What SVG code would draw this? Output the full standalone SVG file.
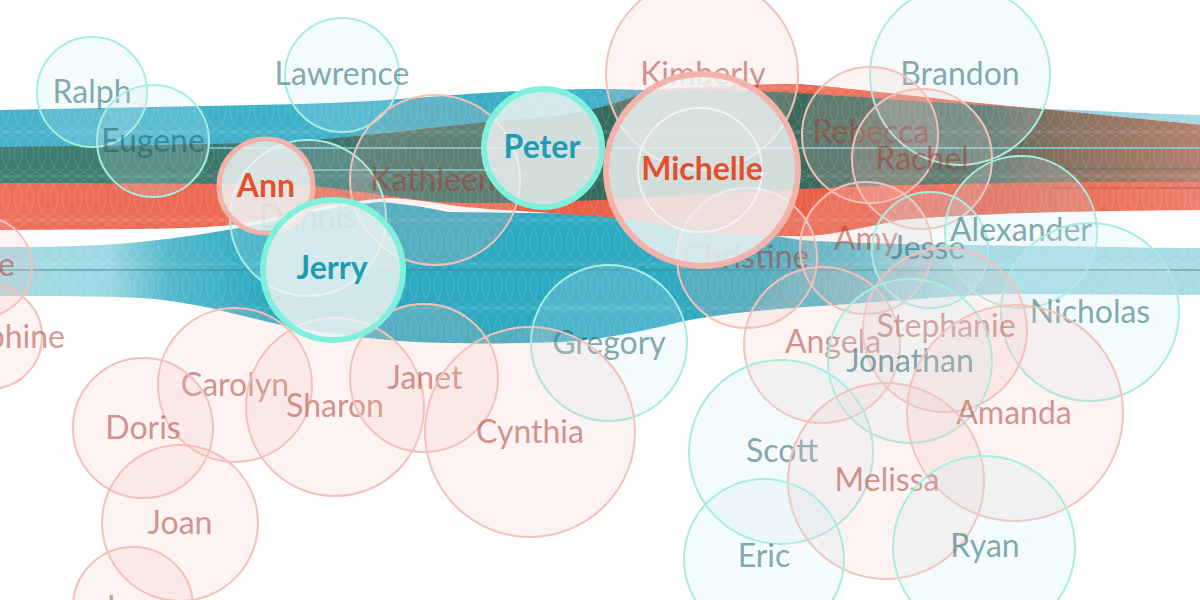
<svg xmlns="http://www.w3.org/2000/svg" width="1200" height="600" viewBox="0 0 1200 600">
<style>
text{font-family:Lato,"Open Sans","DejaVu Sans",sans-serif;font-size:32px;font-weight:400;text-anchor:middle}
.m circle{fill:#c6eaf3;fill-opacity:.2;stroke:#a6eee0;stroke-width:2}
.f circle{fill:#f5c4bc;fill-opacity:.2;stroke:#f4c1b9;stroke-width:2}
.m text{fill:#0f5863;fill-opacity:.52}
.f text{fill:#a63526;fill-opacity:.52}
.hl circle{fill:#eef3f3;fill-opacity:.84;stroke-width:6}
.hl text{font-weight:700}
.hm circle{stroke:#7ff0dc}
.hm text{fill:#1d9db3}
.hf circle{stroke:#f3b2aa}
.hf text{fill:#e2502f}
.ln{fill:none;stroke-width:1.5}
</style>
<defs>
<linearGradient id="gT" x1="0" y1="0" x2="1200" y2="0" gradientUnits="userSpaceOnUse">
<stop offset="0" stop-color="#45b2ca"/>
<stop offset=".4" stop-color="#3aaec7"/>
<stop offset=".8" stop-color="#52b8cd"/>
<stop offset=".88" stop-color="#8fcfdd"/>
<stop offset="1" stop-color="#a6d9e4"/>
</linearGradient>
<linearGradient id="gR" x1="0" y1="0" x2="1200" y2="0" gradientUnits="userSpaceOnUse">
<stop offset="0" stop-color="#ec705b"/>
<stop offset=".5" stop-color="#e95f45"/>
<stop offset=".82" stop-color="#e9604a"/>
<stop offset="1" stop-color="#ee806d"/>
</linearGradient>
<linearGradient id="gO" x1="0" y1="0" x2="1200" y2="0" gradientUnits="userSpaceOnUse">
<stop offset="0" stop-color="#3f7e75"/>
<stop offset=".3" stop-color="#3c7468"/>
<stop offset=".5" stop-color="#356a5c"/>
<stop offset=".8" stop-color="#3d6a5d"/>
<stop offset=".88" stop-color="#85705f"/>
<stop offset="1" stop-color="#b27f6d"/>
</linearGradient>
<linearGradient id="gB" x1="0" y1="0" x2="1200" y2="0" gradientUnits="userSpaceOnUse">
<stop offset="0" stop-color="#26a6be" stop-opacity=".42"/>
<stop offset=".09" stop-color="#26a6be" stop-opacity=".45"/>
<stop offset=".14" stop-color="#26a6be" stop-opacity=".78"/>
<stop offset=".22" stop-color="#22a4bd" stop-opacity=".95"/>
<stop offset=".63" stop-color="#22a4bd" stop-opacity=".95"/>
<stop offset=".72" stop-color="#26a6be" stop-opacity=".75"/>
<stop offset=".8" stop-color="#26a6be" stop-opacity=".45"/>
<stop offset="1" stop-color="#26a6be" stop-opacity=".4"/>
</linearGradient>
<pattern id="scallop" patternUnits="userSpaceOnUse" width="12" height="44">
<g fill="none" stroke="#ffffff" stroke-opacity=".13" stroke-width="1">
<circle cx="-12" cy="22" r="22"/><circle cx="0" cy="22" r="22"/><circle cx="12" cy="22" r="22"/><circle cx="24" cy="22" r="22"/>
</g>
</pattern>
<path id="pT" d="M0,110 C100,108 200,106 300,104 C380,102 430,96 500,92 C560,89 600,88 640,90 L780,92 C850,96 950,104 1050,109 C1120,112 1160,114 1200,115 L1200,182 C1100,182 1000,182 900,185 C800,188 700,195 600,200 C520,203 460,205 420,200 C380,195 340,188 300,185 C200,183 100,183 0,183 Z"/>
<path id="pR" d="M0,147 C100,146 200,145 280,142 C360,138 420,128 500,121 C560,117 600,112 650,90 C700,86 760,84 800,84 C850,88 900,95 1000,105 C1100,115 1150,120 1200,125 L1200,210 C1100,211 1050,212 1000,214 C950,216 920,218 900,220 C860,228 830,236 800,236 C760,236 720,234 700,232 C660,226 640,220 620,218 C580,215 560,214 550,213 C500,210 470,208 450,205 C430,202 410,199 390,198 C360,200 340,204 330,205 C290,215 250,224 220,226 C180,229 150,229 0,230 Z"/>
<path id="pB" d="M0,247 C60,247 100,246 140,242 C180,238 220,232 260,224 C300,214 340,205 380,202 C420,205 440,211 450,212 L620,214 C680,218 740,230 800,240 C860,244 950,245 1050,246 C1120,247 1160,248 1200,248 L1200,295 C1120,295 1050,294 1000,294 C950,296 880,302 820,306 C760,310 720,314 680,322 C640,332 600,340 560,342 C500,344 440,344 400,341 C340,336 300,330 260,320 C220,310 180,300 140,298 C100,296 50,296 0,296 Z"/>
<clipPath id="cT"><use href="#pT"/></clipPath>
<clipPath id="cBands"><use href="#pT"/><use href="#pR"/><use href="#pB"/></clipPath>
</defs>
<rect width="1200" height="600" fill="#ffffff"/>

<g id="connectors">
<use href="#pB" fill="url(#gB)"/>
<use href="#pT" fill="url(#gT)"/>
<use href="#pR" fill="url(#gR)"/>
<use href="#pR" fill="url(#gO)" clip-path="url(#cT)"/>
<rect x="0" y="0" width="1200" height="600" fill="url(#scallop)" clip-path="url(#cBands)"/>
<line class="ln" x1="210" y1="148" x2="1200" y2="148" stroke="#86dbea" stroke-opacity=".9"/>
<line class="ln" x1="300" y1="170" x2="500" y2="170" stroke="#86dbea" stroke-opacity=".8"/>
<line class="ln" x1="1060" y1="169" x2="1200" y2="169" stroke="#3e6c70" stroke-opacity=".35"/>
<line class="ln" x1="1050" y1="188" x2="1200" y2="188" stroke="#6a3a30" stroke-opacity=".25"/>
<line class="ln" x1="0" y1="270" x2="1200" y2="270" stroke="#3f7f8c" stroke-opacity=".55"/>
</g>

<g id="node-ralph" class="m"><circle cx="92" cy="92" r="55"/><text x="92" y="103">Ralph</text></g>
<g id="node-eugene" class="m"><circle cx="153" cy="141" r="56"/><text x="153" y="152">Eugene</text></g>
<g id="node-lawrence" class="m"><circle cx="342" cy="75" r="57"/><text x="342" y="85">Lawrence</text></g>
<g id="node-dennis" class="m"><circle cx="308" cy="218" r="78"/><text x="308" y="228">Dennis</text></g>
<g id="node-kathleen" class="f"><circle cx="435" cy="180" r="85"/><text x="433" y="191">Kathleen</text></g>
<g id="node-kimberly" class="f"><circle cx="702" cy="74" r="96"/><text x="703" y="85">Kimberly</text></g>
<g id="node-brandon" class="m"><circle cx="960" cy="75" r="90"/><text x="960" y="85">Brandon</text></g>
<g id="node-rebecca" class="f"><circle cx="870" cy="135" r="68"/><text x="871" y="143">Rebecca</text></g>
<g id="node-rachel" class="f"><circle cx="922" cy="159" r="70"/><text x="922" y="170">Rachel</text></g>
<g id="node-christine" class="f"><circle cx="747" cy="258" r="70"/><text x="746" y="268">Christine</text></g>
<g id="node-amy" class="f"><circle cx="866" cy="248" r="66"/><text x="866" y="250">Amy</text></g>
<g id="node-jesse" class="m"><circle cx="930" cy="250" r="58"/><text x="928" y="259">Jesse</text></g>
<g id="node-alexander" class="m"><circle cx="1021" cy="232" r="76"/><text x="1021" y="241">Alexander</text></g>
<g id="node-nicholas" class="m"><circle cx="1090" cy="312" r="89"/><text x="1090" y="323">Nicholas</text></g>
<g id="node-gregory" class="m"><circle cx="609" cy="343" r="78"/><text x="609" y="354">Gregory</text></g>
<g id="node-angela" class="f"><circle cx="822" cy="345" r="78"/><text x="833" y="353">Angela</text></g>
<g id="node-stephanie" class="f"><circle cx="945" cy="330" r="82"/><text x="946" y="337">Stephanie</text></g>
<g id="node-jonathan" class="m"><circle cx="910" cy="361" r="82"/><text x="910" y="372">Jonathan</text></g>
<g id="node-amanda" class="f"><circle cx="1015" cy="413" r="108"/><text x="1014" y="424">Amanda</text></g>
<g id="node-scott" class="m"><circle cx="781" cy="452" r="92"/><text x="782" y="462">Scott</text></g>
<g id="node-melissa" class="f"><circle cx="886" cy="481" r="98"/><text x="887" y="491">Melissa</text></g>
<g id="node-eric" class="m"><circle cx="764" cy="559" r="80"/><text x="764" y="567">Eric</text></g>
<g id="node-ryan" class="m"><circle cx="984" cy="547" r="91"/><text x="985" y="557">Ryan</text></g>
<g id="node-carolyn" class="f"><circle cx="235" cy="385" r="77"/><text x="235" y="396">Carolyn</text></g>
<g id="node-sharon" class="f"><circle cx="335" cy="407" r="89"/><text x="335" y="417">Sharon</text></g>
<g id="node-janet" class="f"><circle cx="424" cy="378" r="74"/><text x="425" y="389">Janet</text></g>
<g id="node-cynthia" class="f"><circle cx="530" cy="432" r="105"/><text x="530" y="443">Cynthia</text></g>
<g id="node-doris" class="f"><circle cx="143" cy="428" r="70"/><text x="143" y="439">Doris</text></g>
<g id="node-joan" class="f"><circle cx="180" cy="523" r="78"/><text x="180" y="534">Joan</text></g>
<g id="node-j" class="f"><circle cx="133" cy="607" r="60"/><text x="102" y="619" style="text-anchor:start">J</text></g>
<g id="node-e" class="f"><circle cx="-18" cy="267" r="50"/><text x="15" y="276" style="text-anchor:end">e</text></g>
<g id="node-phine" class="f"><circle cx="-10" cy="337" r="52"/><text x="65" y="348" style="text-anchor:end">phine</text></g>

<g id="node-ann" class="hl hf"><circle cx="266" cy="186" r="47" style="stroke-width:5"/><text x="266" y="197">Ann</text></g>
<g id="node-jerry" class="hl hm"><circle cx="333" cy="270" r="70"/><text x="332" y="279">Jerry</text></g>
<g id="node-peter" class="hl hm"><circle cx="543" cy="148" r="59"/><text x="542" y="158">Peter</text></g>
<g id="node-michelle" class="hl hf"><circle cx="702" cy="170" r="96"/><circle cx="700" cy="170" r="62" style="fill:none;stroke:#ffffff;stroke-opacity:.6;stroke-width:2"/><text x="702" y="180">Michelle</text></g>
</svg>
